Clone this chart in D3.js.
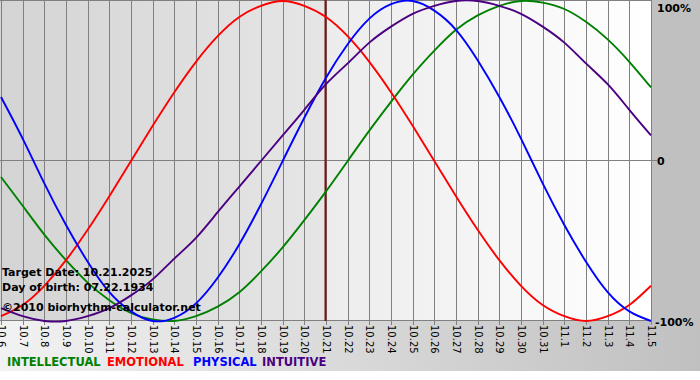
<!DOCTYPE html>
<html lang="en">
<meta charset="utf-8"/>
<head>
<script src="https://d3js.org/d3.v7.min.js"></script>
</head>
<style>
  body { margin: 0; background: #fff; }
  svg text { font-family: "DejaVu Sans", Verdana, sans-serif; }
  .grid line { stroke: #808080; stroke-width: 1; shape-rendering: crispEdges; }
  .curve { fill: none; stroke-width: 1.9; }
  .info { font-size: 11px; font-weight: bold; fill: #000; }
</style>
<body>
<script>
// days shown, 10.6 .. 11.5
var days = ["10.6","10.7","10.8","10.9","10.10","10.11","10.12","10.13","10.14","10.15",
            "10.16","10.17","10.18","10.19","10.20","10.21","10.22","10.23","10.24","10.25",
            "10.26","10.27","10.28","10.29","10.30","10.31","11.1","11.2","11.3","11.4","11.5"];
var targetDay = "10.21";

// values in percent, one per day
var intellectual = [-10,-28,-46,-62,-76,-87,-95,-99,-100,-97,-91,-82,-69,-54,-37,-19,
                    0,19,37,54,69,82,91,97,100,99,95,87,76,62,46];
var emotional    = [-97,-90,-78,-62,-43,-22,0,22,43,62,78,90,97,100,97,90,
                    78,62,43,22,0,-22,-43,-62,-78,-90,-97,-100,-97,-90,-78];
var physical     = [40,14,-14,-40,-63,-82,-94,-100,-98,-89,-73,-52,-27,0,27,52,
                    73,89,98,100,94,82,63,40,14,-14,-40,-63,-82,-94,-100];
var intuitive    = [-92,-97,-100,-100,-97,-92,-84,-74,-61,-48,-32,-16,0,16,32,48,
                    61,74,84,92,97,100,100,97,92,84,74,61,48,32,16];

var series = [
  {name: "INTELLECTUAL", values: intellectual, color: "#008000"},
  {name: "EMOTIONAL",    values: emotional,    color: "#ff0000"},
  {name: "PHYSICAL",     values: physical,     color: "#0000ff"},
  {name: "INTUITIVE",    values: intuitive,    color: "#4b0082"}
];

var W = 700, H = 380;
var plot = {left: 1, right: 651, top: 1, bottom: 321};

var svg = d3.select("body").append("svg")
    .attr("width", W)
    .attr("height", H);

var defs = svg.append("defs");
function grad(id, c1, c2) {
  var g = defs.append("linearGradient").attr("id", id)
      .attr("x1", "0%").attr("x2", "100%").attr("y1", "0%").attr("y2", "0%");
  g.append("stop").attr("offset", "0%").attr("stop-color", c1);
  g.append("stop").attr("offset", "100%").attr("stop-color", c2);
}
grad("past", "#d4d4d4", "#e6e6e6");
grad("future", "#ececec", "#ffffff");
grad("band", "#f2f2f2", "#c0c0c0");

var x = d3.scaleLinear().domain([0, days.length - 1]).range([plot.left, plot.right]);
var y = d3.scaleLinear().domain([-100, 100]).range([plot.bottom, plot.top]);
var ti = days.indexOf(targetDay);

// backgrounds
svg.append("rect").attr("x", 0).attr("y", plot.bottom).attr("width", W).attr("height", 50)
    .attr("fill", "url(#band)");
svg.append("rect").attr("x", plot.right).attr("y", 0).attr("width", W - plot.right).attr("height", plot.bottom)
    .attr("fill", "#c0c0c0");
svg.append("rect").attr("x", 0).attr("y", 0).attr("width", x(ti)).attr("height", plot.bottom)
    .attr("fill", "url(#past)");
svg.append("rect").attr("x", x(ti)).attr("y", 0).attr("width", plot.right - x(ti)).attr("height", plot.bottom)
    .attr("fill", "url(#future)");

// grid
var grid = svg.append("g").attr("class", "grid");
grid.selectAll(".v").data(days).enter().append("line")
    .attr("x1", function(d, i) { return Math.round(x(i)) + 0.5; })
    .attr("x2", function(d, i) { return Math.round(x(i)) + 0.5; })
    .attr("y1", 0).attr("y2", plot.bottom + 4);
grid.selectAll(".h").data([100, 0, -100]).enter().append("line")
    .attr("x1", 0).attr("x2", function(d) { return d == 0 ? plot.right + 6 : plot.right; })
    .attr("y1", function(d) { return Math.round(y(d)) - 0.5; })
    .attr("y2", function(d) { return Math.round(y(d)) - 0.5; });

// x labels
svg.append("g").selectAll("text").data(days).enter().append("text")
    .attr("transform", function(d, i) { return "translate(" + (Math.round(x(i)) + 0.5) + "," + (plot.bottom + 4) + ") rotate(90)"; })
    .attr("dy", "0.35em")
    .attr("font-size", "10px")
    .attr("fill", "#000")
    .text(function(d) { return d; });

// y labels
svg.append("text").attr("class", "info").attr("x", 657).attr("y", 12).text("100%");
svg.append("text").attr("class", "info").attr("x", 657).attr("y", 165).text("0");
svg.append("text").attr("class", "info").attr("x", 655).attr("y", 326).text("-100%");

// target line
svg.append("line")
    .attr("x1", x(ti) - 0.5).attr("x2", x(ti) - 0.5)
    .attr("y1", 0).attr("y2", plot.bottom)
    .attr("stroke", "#7a1010").attr("stroke-width", 2);

// curves
var line = d3.line()
    .x(function(d, i) { return x(i); })
    .y(function(d) { return y(d); })
    .curve(d3.curveNatural);

svg.append("g").selectAll("path").data(series).enter().append("path")
    .attr("class", "curve")
    .attr("stroke", function(d) { return d.color; })
    .attr("d", function(d) { return line(d.values); });

// info texts
svg.append("text").attr("class", "info").attr("x", 2).attr("y", 276).text("Target Date: 10.21.2025");
svg.append("text").attr("class", "info").attr("x", 2).attr("y", 291).text("Day of birth: 07.22.1934");
svg.append("text").attr("class", "info").attr("x", 2).attr("y", 311).text("\u00a92010 biorhythm-calculator.net");

// legend
var lx = [7, 107, 193, 262];
svg.append("g").selectAll("text").data(series).enter().append("text")
    .attr("class", "info")
    .attr("x", function(d, i) { return lx[i]; })
    .attr("y", 366)
    .style("font-size", "11.5px")
    .style("fill", function(d) { return d.color; })
    .text(function(d) { return d.name; });
</script>
</body>
</html>
